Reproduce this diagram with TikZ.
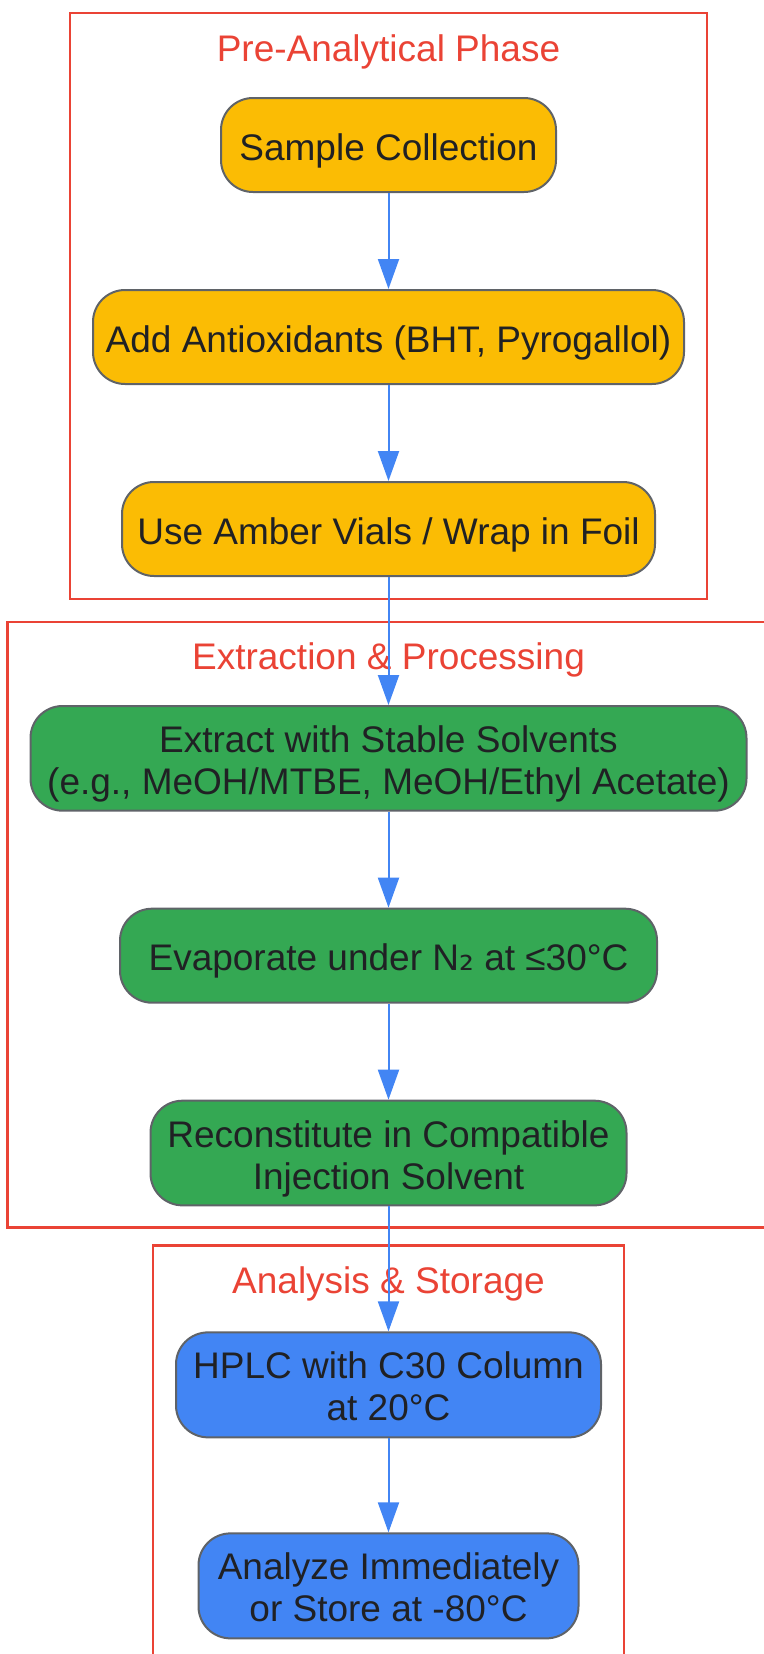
\documentclass[tikz,border=0pt]{standalone}
\usepackage{fontspec}
\setmainfont{Liberation Sans}
\newfontfamily\subfont{DejaVu Sans}
\usetikzlibrary{arrows.meta,positioning,fit}

\definecolor{gyellow}{HTML}{FBBC04}
\definecolor{ggreen}{HTML}{34A853}
\definecolor{gblue}{HTML}{4285F4}
\definecolor{gred}{HTML}{EA4335}
\definecolor{gborder}{HTML}{5F6368}
\definecolor{gtext}{HTML}{202124}

% struts so the text sits as in the boxes of the picture
\newcommand{\tstrut}{\rule{0pt}{38pt}}
\newcommand{\bstrut}{\rule[-8pt]{0pt}{8pt}}

\begin{document}
\begin{tikzpicture}[x=1pt,y=1pt,node distance=96pt,
    >={Triangle[length=30pt,width=21pt]},
    box node/.style={draw=gborder,line width=2pt,rounded corners=32pt,text=gtext,align=center,
      minimum height=94pt,inner ysep=8.5pt,font=\fontsize{37}{42}\selectfont},
    pre node/.style={box node,fill=gyellow},
    ext node/.style={box node,fill=ggreen},
    ana node/.style={box node,fill=gblue},
    cluster/.style={draw=gred,line width=2.5pt,inner sep=22pt},
    cluster title/.style={text=gred,font=\fontsize{37}{42}\selectfont},
    flow/.style={->,draw=gblue,line width=2pt}]

  \useasboundingbox (0,0) rectangle (763,-1654);

  % pre-analytical
  \node[pre node,minimum width=335pt] (sample) at (388.5,-145) {\tstrut Sample Collection};
  \node[pre node,minimum width=591pt] (antiox) [below=of sample] {\tstrut Add Antioxidants (BHT, Pyrogallol)};
  \node[pre node,minimum width=533pt] (amber) [below=of antiox] {\tstrut Use Amber Vials / Wrap in Foil};

  % extraction
  \node[ext node,minimum width=716pt] (extract) [below=128pt of amber] {\tstrut Extract with Stable Solvents\\(e.g., MeOH/MTBE, MeOH/Ethyl Acetate)};
  \node[ext node,minimum width=537pt] (evap) [below=of extract] {\tstrut Evaporate under N{\subfont ₂} at ≤30°C};
  \node[ext node,minimum width=476pt] (recon) [below=of evap] {\tstrut Reconstitute in Compatible\\Injection Solvent};

  % analysis
  \node[ana node,minimum width=425pt] (hplc) [below=125pt of recon] {\tstrut HPLC with C30 Column\\at 20°C\bstrut};
  \node[ana node,minimum width=380pt] (store) [below=94pt of hplc] {\tstrut Analyze Immediately\\or Store at -80°C\bstrut};

  % clusters
  \coordinate[above=62pt of sample.north] (top1);
  \coordinate[above=62pt of extract.north] (top2);
  \coordinate[above=64pt of hplc.north] (top3);
  \node[cluster,fit=(top1)(antiox)(amber)] (pre) {};
  \node[cluster,inner ysep=21pt,fit=(top2)(extract)(recon)] (ext) {};
  \node[cluster,fit=(top3)(hplc)(store)] (ana) {};
  \node[cluster title] (pretitle) at ([yshift=-40pt]pre.north) {Pre-Analytical Phase};
  \node[cluster title] (exttitle) at ([yshift=-39pt]ext.north) {Extraction \& Processing};
  \node[cluster title] (anatitle) at ([yshift=-40pt]ana.north) {Analysis \& Storage};

  \draw[flow] (sample) -- (antiox);
  \draw[flow] (antiox) -- (amber);
  \draw[flow] (amber) -- (extract);
  \draw[flow] (extract) -- (evap);
  \draw[flow] (evap) -- (recon);
  \draw[flow] (recon) -- (hplc);
  \draw[flow] (hplc) -- (store);

\end{tikzpicture}
\end{document}
